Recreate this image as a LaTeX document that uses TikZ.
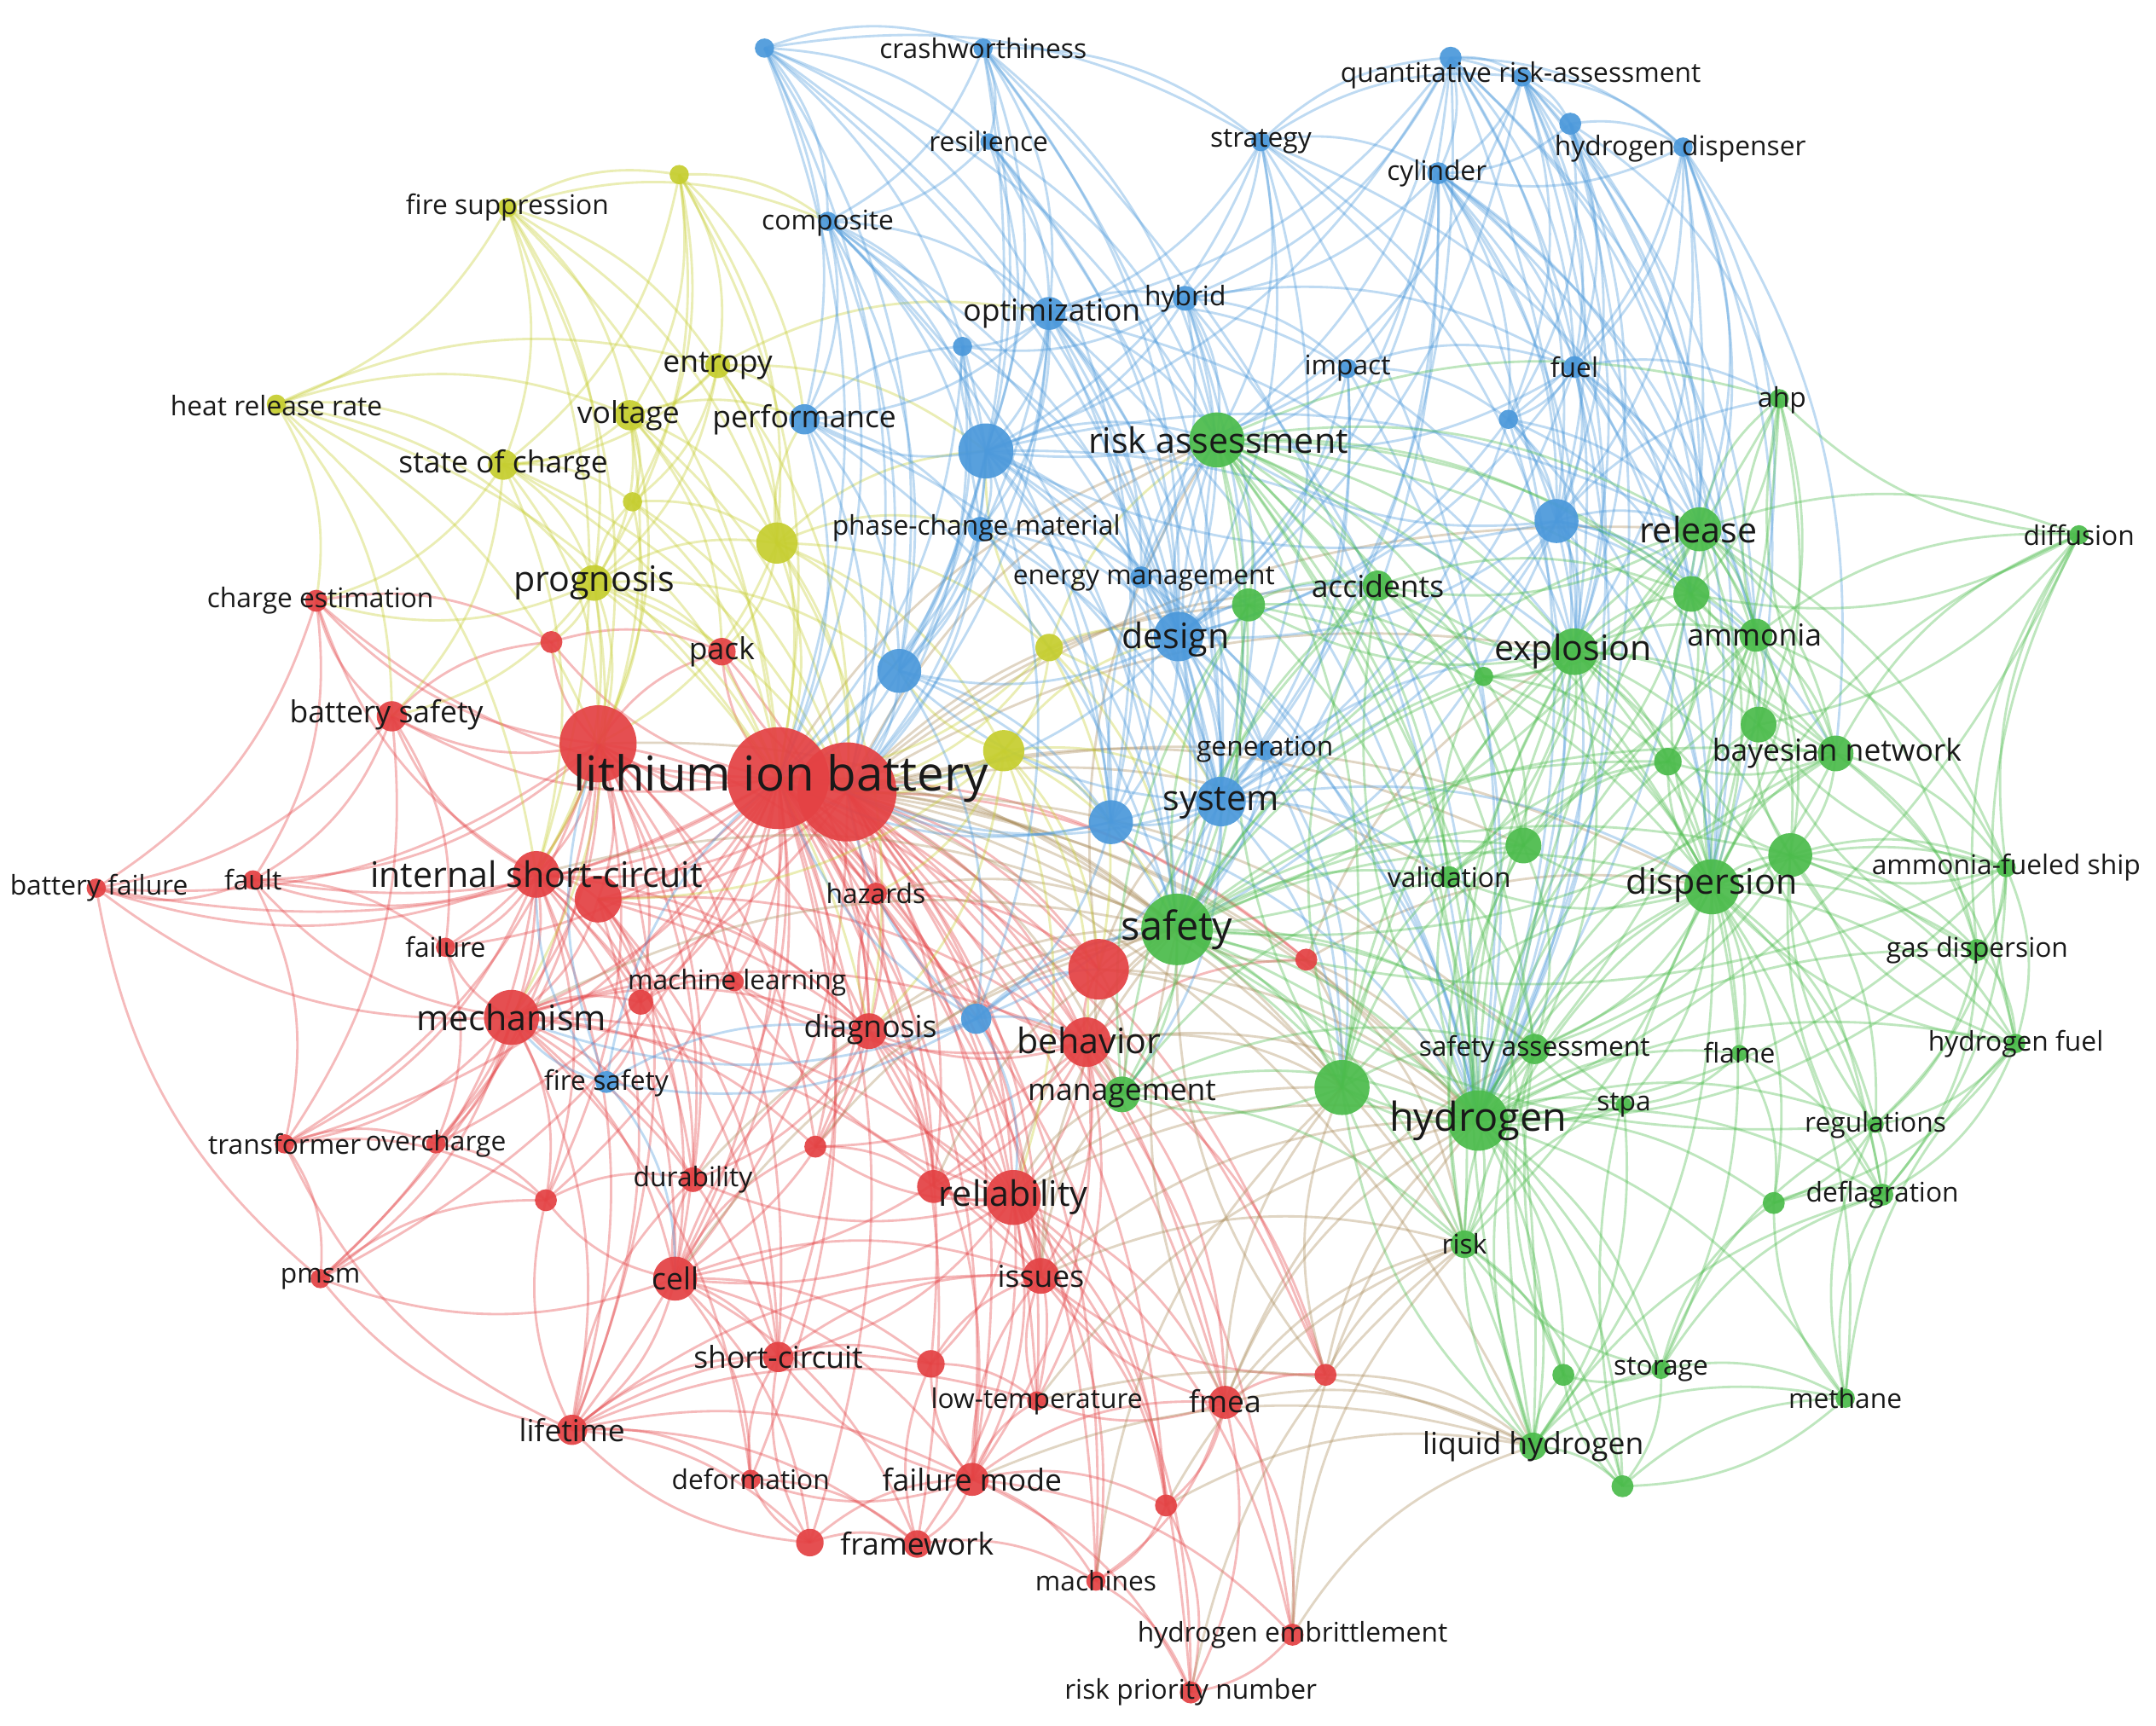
\documentclass[tikz,border=0pt]{standalone}
\usepackage{fontspec}
\setmainfont{Open Sans}
\definecolor{cR}{RGB}{228,66,68}
\definecolor{cG}{RGB}{76,188,76}
\definecolor{cB}{RGB}{76,153,219}
\definecolor{cY}{RGB}{198,206,48}
\definecolor{cRG}{RGB}{170,140,90}
\definecolor{txt}{RGB}{25,25,25}
\pgfdeclarelayer{bg}\pgfdeclarelayer{fg}\pgfsetlayers{bg,main,fg}
\begin{document}
\begin{tikzpicture}[x=0.01cm,y=-0.01cm,
  nd/.style={circle,inner sep=0pt,outer sep=0pt,fill opacity=0.93},
  rn/.style={nd,fill=cR,minimum size=#1*0.2mm},
  gn/.style={nd,fill=cG,minimum size=#1*0.2mm},
  bn/.style={nd,fill=cB,minimum size=#1*0.2mm},
  yn/.style={nd,fill=cY,minimum size=#1*0.2mm},
  ed/.style={line width=0.5pt,draw opacity=0.36,bend left=20},
  labA/.style={inner sep=0pt,text=txt,font=\fontsize{9.96pt}{10pt}\selectfont},
  labB/.style={inner sep=0pt,text=txt,font=\fontsize{8.25pt}{9pt}\selectfont},
  labC/.style={inner sep=0pt,text=txt,font=\fontsize{7.26pt}{8pt}\selectfont},
  labD/.style={inner sep=0pt,text=txt,font=\fontsize{6.26pt}{7pt}\selectfont},
  labE/.style={inner sep=0pt,text=txt,font=\fontsize{5.6pt}{6pt}\selectfont}]
\useasboundingbox (0,0) rectangle (1568,1255);
% ---------------- nodes: blue
\node[bn=7] (b1) at (556,35) {};
\node[bn=7] (crash) at (715,35) {};
\node[bn=6] (resil) at (719,103) {};
\node[bn=7] (strat) at (917,103) {};
\node[bn=8] (b2) at (1055,42) {};
\node[bn=7] (qra) at (1107,56) {};
\node[bn=8] (b3) at (1142,90) {};
\node[bn=7] (hdisp) at (1224,107) {};
\node[bn=8] (cyl) at (1046,126) {};
\node[bn=7] (comp) at (602,161) {};
\node[bn=12] (optim) at (763,228) {};
\node[bn=9] (hybrid) at (862,217) {};
\node[bn=7] (b4) at (700,252) {};
\node[bn=7] (impact) at (980,268) {};
\node[bn=8] (fuel) at (1145,267) {};
\node[bn=7] (b5) at (1097,305) {};
\node[bn=11] (perf) at (585,305) {};
\node[bn=20] (b6) at (717,328) {};
\node[bn=9] (pcm) at (713,385) {};
\node[bn=16] (b7) at (1132,379) {};
\node[bn=8] (energ) at (830,420) {};
\node[bn=18] (design) at (857,463) {};
\node[bn=16] (b8) at (654,488) {};
\node[bn=7] (gen) at (920,546) {};
\node[bn=18] (system) at (888,583) {};
\node[bn=16] (b9) at (808,598) {};
\node[bn=11] (b10) at (710,741) {};
\node[bn=8] (fsaf) at (441,787) {};
% yellow
\node[yn=7] (fsup) at (369,151) {};
\node[yn=7] (y1) at (494,127) {};
\node[yn=9] (entropy) at (522,266) {};
\node[yn=7] (hrr) at (201,294) {};
\node[yn=11] (volt) at (458,302) {};
\node[yn=11] (soc) at (366,338) {};
\node[yn=7] (y2) at (460,365) {};
\node[yn=15] (y3) at (565,395) {};
\node[yn=13] (progn) at (432,424) {};
\node[yn=10] (y4) at (763,471) {};
\node[yn=15] (y5) at (730,546) {};
% red
\node[rn=8] (charge) at (230,437) {};
\node[rn=8] (r1) at (401,467) {};
\node[rn=10] (pack) at (525,474) {};
\node[rn=11] (bsaf) at (285,521) {};
\node[rn=28] (r2) at (435,541) {};
\node[rn=37] (lib1) at (566,566) {};
\node[rn=36] (lib2) at (616,576) {};
\node[rn=7] (bfail) at (70,646) {};
\node[rn=7] (fault) at (184,640) {};
\node[rn=17] (isc) at (390,636) {};
\node[rn=17] (r3) at (435,654) {};
\node[rn=8] (hazards) at (637,650) {};
\node[rn=7] (failure) at (324,689) {};
\node[rn=9] (r4) at (466,729) {};
\node[rn=7] (mlearn) at (534,714) {};
\node[rn=20] (mech) at (372,740) {};
\node[rn=13] (diag) at (632,750) {};
\node[rn=22] (r5) at (799,705) {};
\node[rn=18] (behav) at (790,758) {};
\node[rn=8] (r6) at (950,698) {};
\node[rn=7] (transf) at (207,832) {};
\node[rn=7] (overch) at (317,832) {};
\node[rn=9] (dura) at (504,858) {};
\node[rn=8] (r7) at (593,834) {};
\node[rn=8] (r8) at (397,873) {};
\node[rn=20] (reliab) at (737,871) {};
\node[rn=12] (r9) at (679,863) {};
\node[rn=7] (pmsm) at (233,930) {};
\node[rn=16] (cell) at (491,930) {};
\node[rn=13] (issues) at (757,928) {};
\node[rn=11] (shortc) at (566,987) {};
\node[rn=10] (r10) at (677,992) {};
\node[rn=8] (r11) at (964,1000) {};
\node[rn=7] (lowt) at (754,1019) {};
\node[rn=12] (fmea) at (891,1020) {};
\node[rn=11] (life) at (416,1040) {};
\node[rn=7] (deform) at (546,1076) {};
\node[rn=12] (fmode) at (707,1076) {};
\node[rn=8] (r12) at (848,1095) {};
\node[rn=10] (frame) at (667,1123) {};
\node[rn=10] (r13) at (589,1122) {};
\node[rn=7] (machines) at (797,1150) {};
\node[rn=8] (hemb) at (940,1189) {};
\node[rn=8] (rpn) at (866,1231) {};
% green
\node[gn=7] (ahp) at (1294,290) {};
\node[gn=20] (riskass) at (885,320) {};
\node[gn=16] (release) at (1236,385) {};
\node[gn=7] (diffus) at (1512,389) {};
\node[gn=12] (g1) at (908,440) {};
\node[gn=11] (accid) at (1002,426) {};
\node[gn=13] (g2) at (1230,432) {};
\node[gn=17] (explos) at (1145,474) {};
\node[gn=12] (ammonia) at (1277,462) {};
\node[gn=7] (g3) at (1079,492) {};
\node[gn=13] (g4) at (1279,527) {};
\node[gn=13] (bayes) at (1335,548) {};
\node[gn=10] (g5) at (1213,554) {};
\node[gn=13] (g6) at (1108,615) {};
\node[gn=8] (valid) at (1054,638) {};
\node[gn=16] (g7) at (1302,622) {};
\node[gn=20] (disp) at (1245,645) {};
\node[gn=7] (afship) at (1459,631) {};
\node[gn=26] (safety) at (856,676) {};
\node[gn=8] (gasdisp) at (1438,691) {};
\node[gn=11] (safass) at (1116,763) {};
\node[gn=6] (flame) at (1265,766) {};
\node[gn=7] (hfuel) at (1466,759) {};
\node[gn=20] (g8) at (976,791) {};
\node[gn=13] (manag) at (816,796) {};
\node[gn=22] (hydrogen) at (1075,815) {};
\node[gn=6] (stpa) at (1181,804) {};
\node[gn=6] (regul) at (1364,818) {};
\node[gn=8] (g9) at (1290,875) {};
\node[gn=8] (deflag) at (1369,869) {};
\node[gn=10] (risk) at (1065,905) {};
\node[gn=8] (g10) at (1137,1000) {};
\node[gn=7] (storage) at (1208,996) {};
\node[gn=7] (methane) at (1342,1017) {};
\node[gn=10] (lh2) at (1115,1052) {};
\node[gn=8] (g11) at (1180,1081) {};
% ---------------- edges
\begin{pgfonlayer}{bg}
\fill[white] (0,0) rectangle (1568,1255);
% red
\foreach \a/\b in {lib1/r2, lib1/isc, lib1/r3, lib1/mech, lib1/bsaf, lib1/charge, lib1/r1, lib1/pack, lib1/hazards, lib1/failure, lib1/r4, lib1/mlearn, lib1/diag, lib1/r5, lib1/behav, lib1/transf, lib1/overch, lib1/dura, lib1/r7, lib1/r8, lib1/reliab, lib1/r9, lib1/cell, lib1/issues, lib1/shortc, lib1/r10, lib1/life, lib1/deform, lib1/fmode, lib1/frame, lib1/r13, lib1/lowt, lib1/fmea, lib1/fault, lib1/bfail, lib1/pmsm, lib1/machines, lib1/r11, lib1/r6, lib1/lib2,
lib2/reliab, lib2/behav, lib2/r5, lib2/diag, lib2/hazards, lib2/pack, lib2/issues, lib2/cell, lib2/fmode, lib2/r9, lib2/r7, lib2/fmea, lib2/r6, lib2/mech, lib2/isc, lib2/r3,
r2/isc, r2/r3, r2/mech, r2/bsaf, r2/charge, r2/fault, r2/bfail, r2/failure, r2/pack, r2/cell, r2/life, r2/shortc, r2/transf, r2/overch, r2/dura, r2/r8, r2/pmsm, r2/r1, r2/r4, r2/diag,
isc/r3, isc/mech, isc/bsaf, isc/fault, isc/failure, isc/overch, isc/transf, isc/cell, isc/life, isc/shortc, isc/dura, isc/r8, isc/diag, isc/charge, isc/bfail,
r3/mech, r3/cell, r3/diag, r3/behav, r3/reliab, r3/r4,
mech/overch, mech/transf, mech/dura, mech/cell, mech/life, mech/pmsm, mech/failure, mech/r8, mech/r4, mech/shortc, mech/deform, mech/diag, mech/fault, mech/bfail, mech/behav, mech/reliab,
behav/r5, behav/reliab, behav/issues, behav/fmea, behav/diag, behav/r9, behav/fmode, behav/lowt, behav/r11, behav/r6, behav/cell,
reliab/r9, reliab/issues, reliab/fmode, reliab/lowt, reliab/fmea, reliab/frame, reliab/r10, reliab/machines, reliab/rpn, reliab/hemb, reliab/r12, reliab/cell, reliab/dura, reliab/r7, reliab/diag, reliab/shortc,
cell/shortc, cell/life, cell/deform, cell/r13, cell/dura, cell/r8, cell/pmsm, cell/issues, cell/r10, cell/frame, cell/fmode, cell/diag,
life/shortc, life/deform, life/r13, life/frame, life/fmode, life/transf, life/pmsm, life/lowt, life/r10, life/issues,
fmode/frame, fmode/fmea, fmode/r12, fmode/rpn, fmode/hemb, fmode/machines, fmode/lowt, fmode/r10, fmode/issues, fmode/shortc,
fmea/rpn, fmea/hemb, fmea/r12, fmea/r11, fmea/machines, fmea/issues, fmea/lowt,
bsaf/charge, bsaf/fault, bsaf/bfail, bsaf/r1, bsaf/failure, charge/fault, charge/r1, fault/bfail, fault/failure, fault/transf, transf/pmsm, transf/overch, transf/r8, pmsm/r8, r13/frame, r13/shortc, r13/fmode, deform/frame, deform/shortc, shortc/r10, shortc/issues, r10/issues, diag/r7, diag/r9, diag/hazards, diag/mlearn, r7/r9, r9/issues, r4/mlearn, r4/fsaf, hemb/rpn, machines/rpn, r12/rpn, r12/machines, r11/issues, lowt/issues, hazards/r5, r1/pack, pack/diag,
r2/hazards, r2/mlearn, r2/r7, isc/r4, isc/pmsm, r3/shortc, r3/life, r3/dura, mech/r7, mech/issues, diag/cell, diag/dura, diag/issues, diag/fmode, behav/hazards, behav/mlearn, behav/r7, reliab/hazards, reliab/mlearn, cell/r7, life/r8, life/dura, r13/deform, r13/life, frame/r10, frame/machines, fmode/deform, charge/bfail, bsaf/transf, failure/overch, overch/r8, pmsm/bfail, r8/dura, r10/lowt, issues/r12, lib2/lowt, lib2/r11, lib2/r12, lib2/machines, lib2/hemb, lib1/rpn}
  \draw[ed,cR] (\a.center) to (\b.center);
% red-green
\foreach \a/\b in {r5/safety, r5/system, r6/safety, r11/hydrogen, fmea/risk, fmea/lh2, hemb/lh2, behav/safety, behav/g8, behav/hydrogen, reliab/safety, reliab/manag, issues/manag, lib2/safety, lib2/hydrogen, lib2/riskass, lib2/g8, lib2/manag, lib2/explos, lib2/disp, r5/manag, r6/hydrogen, r11/risk, issues/hydrogen, fmode/lh2, r12/lh2, lowt/lh2, manag/behav, manag/r5,
lib1/safety, lib1/hydrogen, lib1/riskass, r2/safety, isc/safety, mech/safety, diag/safety, cell/safety, reliab/hydrogen, reliab/g8, issues/safety, r5/riskass, r5/hydrogen, r5/g8, hazards/safety, fmea/safety, fmea/hydrogen, fmea/g8, fmea/safass, r11/safety, r11/lh2, r11/g8, r6/g8, r6/risk, lowt/hydrogen, hemb/hydrogen, hemb/risk, rpn/risk, r12/risk, machines/g8, issues/risk, r9/safety, dura/safety, r7/safety, lib2/g6, lib2/valid, lib2/safass, lib2/risk, lib2/lh2, lib2/release, lib2/accid, lib2/g1, r6/disp, r6/explos}
  \draw[ed,cRG] (\a.center) to (\b.center);
% yellow
\foreach \a/\b in {fsup/y1, fsup/hrr, fsup/volt, fsup/soc, fsup/entropy, fsup/progn, fsup/r2, fsup/y3, fsup/lib1,
y1/entropy, y1/volt, y1/soc, y1/y3, y1/progn, y1/lib1, y1/perf,
hrr/soc, hrr/volt, hrr/entropy, hrr/progn, hrr/charge, hrr/bsaf, hrr/r2, hrr/lib1,
entropy/volt, entropy/soc, entropy/y3, entropy/progn, entropy/lib1, entropy/lib2, entropy/y2,
volt/soc, volt/y2, volt/progn, volt/y3, volt/lib1, volt/r2, volt/pack, volt/lib2,
soc/progn, soc/y2, soc/lib1, soc/bsaf, soc/charge, soc/isc, soc/lib2,
progn/y2, progn/y3, progn/lib1, progn/lib2, progn/pack, progn/r1, progn/bsaf, progn/mech, progn/diag, progn/isc, progn/charge,
y2/y3, y2/lib1, y2/lib2, y3/lib1, y3/lib2, y3/pack, y3/y4, y3/y5, y3/diag,
y4/lib2, y4/y5, y4/lib1, y5/lib2, y5/lib1, y5/behav, y5/reliab, y5/diag, y5/r5,
y3/b8, y3/perf, entropy/perf, entropy/optim, y4/system, y4/design, y5/system, y5/b9, y4/safety, y5/safety,
y4/b6, y4/riskass, y5/design, y5/b8, progn/b8, volt/perf, entropy/b6, y1/comp, fsup/comp, y2/r2, y3/r2, y3/b6, y4/r5, y5/hazards, y5/r3, progn/r2, volt/isc, soc/r2, hrr/isc, fsup/isc, y1/y2, y3/pcm}
  \draw[ed,cY] (\a.center) to (\b.center);
% blue
\foreach \a/\b in {b1/crash, b1/comp, b1/resil, b1/b6, b1/optim, b1/perf, b1/strat, b1/b8, b1/system,
crash/resil, crash/strat, crash/b6, crash/optim, crash/system, crash/design, crash/comp, crash/b8,
resil/optim, resil/b6, resil/system, resil/design, resil/comp, resil/b9,
strat/qra, strat/b2, strat/cyl, strat/hybrid, strat/optim, strat/b6, strat/system, strat/design, strat/b7,
b2/qra, b2/b3, b2/cyl, b2/hdisp, b2/hybrid, b2/fuel, b2/b7, b2/system, b2/design, b2/optim, b2/b6,
qra/b3, qra/cyl, qra/hdisp, qra/fuel, qra/b7, qra/b5, qra/design,
b3/hdisp, b3/cyl, b3/fuel, b3/b7, b3/b5,
hdisp/cyl, hdisp/fuel, hdisp/b5, hdisp/b7,
cyl/fuel, cyl/b5, cyl/b7, cyl/impact, cyl/hybrid, cyl/design, cyl/system,
comp/optim, comp/b6, comp/perf, comp/b4, comp/pcm, comp/system, comp/design, comp/b8, comp/b9,
optim/hybrid, optim/b4, optim/b6, optim/perf, optim/pcm, optim/energ, optim/design, optim/system, optim/b8, optim/b9, optim/impact, optim/lib2,
hybrid/b6, hybrid/design, hybrid/system, hybrid/energ, hybrid/impact, hybrid/fuel, hybrid/b4,
impact/fuel, impact/b5, impact/b6, impact/system, impact/design,
fuel/b5, fuel/b7, fuel/design, fuel/system, b5/b7, b5/system, b5/design,
b6/perf, b6/pcm, b6/b8, b6/design, b6/system, b6/b9, b6/energ, b6/lib2, b6/b4, b6/lib1, b6/b10,
perf/pcm, perf/b8, perf/lib1, perf/b4, perf/lib2, perf/system,
pcm/b8, pcm/energ, pcm/design, pcm/system, pcm/b9, pcm/lib2,
b7/system, b7/design, b7/b9, b7/b6, energ/design, energ/system, energ/b9,
design/system, design/b9, design/gen, design/b8, design/lib2,
system/b9, system/gen, system/lib2, system/b10, system/b8,
b8/b9, b8/lib2, b8/lib1, b8/b10, b9/lib2, b9/b10, b9/lib1,
b10/fsaf, b10/mech, b10/diag, b10/lib2, b10/behav, b10/lib1, fsaf/mech, fsaf/lib1, fsaf/isc,
strat/riskass, b2/riskass, qra/riskass, qra/release, b3/release, b3/explos, b3/hydrogen, hdisp/release, hdisp/ammonia, hdisp/explos, hdisp/disp, hdisp/hydrogen, cyl/hydrogen, cyl/explos, cyl/safety,
b7/release, b7/explos, b7/riskass, b7/safety, b7/hydrogen, b7/disp, b7/g2, b7/ammonia, b7/bayes, fuel/release, fuel/explos, fuel/hydrogen, fuel/riskass, design/safety, design/riskass, design/hydrogen, design/g8, design/g1, design/accid, system/safety, system/riskass, system/hydrogen, system/g8, system/explos, system/valid, system/manag, system/disp, energ/safety, energ/g1, optim/riskass, b6/riskass, b6/safety, hybrid/riskass, impact/riskass, gen/safety, gen/hydrogen, b9/safety, b5/release, b5/explos, cyl/release, hybrid/hydrogen, strat/hydrogen, b2/release, b3/disp,
b6/hydrogen, b6/explos, b6/release, optim/safety, optim/hydrogen, optim/explos, perf/safety, pcm/safety, b8/safety, comp/safety, crash/riskass, resil/riskass, crash/hydrogen, b1/design, b1/riskass, strat/release, strat/explos, b2/explos, b2/hydrogen, qra/explos, qra/disp, qra/ammonia, qra/hydrogen, hdisp/g2, hdisp/bayes, cyl/disp, cyl/g2, fuel/disp, fuel/ammonia, fuel/g2, b5/hydrogen, b5/disp, b5/g2, impact/hydrogen, impact/explos, impact/safety, hybrid/safety, energ/hydrogen, energ/riskass, gen/g8, gen/riskass, b9/hydrogen, b9/riskass, b10/safety, b10/reliab, b10/r5, fsaf/r2, fsaf/cell, fsaf/diag, b1/lib1, b1/lib2, crash/lib2, comp/lib1, comp/lib2, optim/lib1, b4/lib1, b4/lib2, b4/b8, b4/design, b3/ahp, b7/ahp, fuel/ahp, b2/ammonia, cyl/ammonia}
  \draw[ed,cB] (\a.center) to (\b.center);
% green
\foreach \a/\b in {riskass/safety, riskass/g1, riskass/accid, riskass/explos, riskass/release, riskass/g2, riskass/ammonia, riskass/bayes, riskass/hydrogen, riskass/g8, riskass/disp, riskass/ahp, riskass/manag, riskass/g6, riskass/valid, riskass/safass, riskass/risk, riskass/g3, riskass/lh2,
safety/g8, safety/hydrogen, safety/manag, safety/accid, safety/g1, safety/explos, safety/disp, safety/safass, safety/risk, safety/g6, safety/valid, safety/lh2, safety/stpa, safety/g3, safety/release, safety/g5, safety/bayes, safety/storage, safety/g7,
hydrogen/g8, hydrogen/safass, hydrogen/risk, hydrogen/stpa, hydrogen/disp, hydrogen/explos, hydrogen/release, hydrogen/lh2, hydrogen/storage, hydrogen/g10, hydrogen/g11, hydrogen/flame, hydrogen/g9, hydrogen/deflag, hydrogen/regul, hydrogen/methane, hydrogen/valid, hydrogen/g6, hydrogen/g5, hydrogen/g7, hydrogen/bayes, hydrogen/hfuel, hydrogen/accid, hydrogen/g4, hydrogen/ammonia, hydrogen/gasdisp,
release/g2, release/ammonia, release/explos, release/disp, release/diffus, release/ahp, release/g4, release/bayes, release/g7, release/g5, release/afship, release/gasdisp, release/accid, release/g6,
explos/g2, explos/ammonia, explos/g3, explos/g4, explos/g5, explos/g6, explos/disp, explos/accid, explos/bayes, explos/g7, explos/valid, explos/deflag, explos/flame, explos/g1, explos/safass,
disp/g7, disp/g4, disp/bayes, disp/afship, disp/gasdisp, disp/hfuel, disp/flame, disp/regul, disp/deflag, disp/g9, disp/safass, disp/g6, disp/g5, disp/ammonia, disp/diffus, disp/storage, disp/methane, disp/g2, disp/stpa, disp/lh2, disp/valid,
ammonia/g2, ammonia/g4, ammonia/bayes, ammonia/afship, ammonia/g7, ammonia/ahp, ammonia/diffus, ammonia/g5,
bayes/g4, bayes/g7, bayes/afship, bayes/gasdisp, bayes/ahp, bayes/diffus, bayes/g5, bayes/g2, bayes/hfuel,
g7/g4, g7/afship, g7/gasdisp, g7/g5, g7/regul, g2/g4, g2/g5, g2/g3,
afship/gasdisp, afship/hfuel, afship/regul, afship/deflag, afship/diffus,
gasdisp/hfuel, gasdisp/regul, gasdisp/deflag, gasdisp/diffus, hfuel/regul, hfuel/deflag, hfuel/g9, hfuel/diffus,
lh2/storage, lh2/g10, lh2/g11, lh2/methane, lh2/risk, lh2/safass, lh2/g8, lh2/deflag,
storage/g10, storage/g11, storage/methane, storage/risk, storage/deflag,
risk/safass, risk/g8, risk/g10, risk/stpa, risk/g11,
g8/safass, g8/manag, g8/valid, g8/g6, g8/accid, g8/g1, manag/g1, manag/accid, manag/safass,
valid/g6, valid/safass, valid/g3, g6/g5, g6/safass, g1/accid, g3/g5, accid/g3,
stpa/safass, flame/deflag, regul/deflag, g9/deflag, methane/deflag, methane/g11, diffus/ahp, ahp/g2,
ahp/g4, ahp/disp, ahp/hydrogen, ahp/safety, afship/g4, afship/hydrogen, afship/safety, gasdisp/g4, gasdisp/hydrogen, hfuel/g7, regul/g9, regul/g7, regul/safety, methane/g9, methane/regul, storage/g9, deflag/g7, g11/safass, g11/disp, g10/safass, lh2/explos, lh2/release, risk/disp, risk/explos, risk/g6, valid/g5, accid/g2, accid/g6, accid/disp, g1/g3, g1/hydrogen, g1/disp, g3/g6, g3/disp, manag/hydrogen, manag/risk, manag/valid, g8/disp, g8/explos, g8/release, stpa/g8, stpa/lh2, flame/g9, flame/stpa, ammonia/safety, ammonia/risk, bayes/safety, bayes/safass, g7/safass, g7/hfuel, diffus/g4, diffus/g2, diffus/hydrogen, afship/g7, hfuel/disp, methane/hfuel, storage/regul, g11/g10, g11/methane}
  \draw[ed,cG] (\a.center) to (\b.center);
\end{pgfonlayer}
% ---------------- labels
\begin{pgfonlayer}{fg}
\node[labE] (t-crash) at (715,35) {crashworthiness};
\node[labE] (t-resil) at (719,103) {resilience};
\node[labE] (t-strat) at (917,103) {strategy};
\node[labE] (t-qra) at (1106,55) {quantitative risk-assessment};
\node[labE] (t-hdisp) at (1222,108) {hydrogen dispenser};
\node[labE] (t-cyl) at (1045,126) {cylinder};
\node[labE] (t-comp) at (602,162) {composite};
\node[labD] (t-optim) at (765,228) {optimization};
\node[labE] (t-hybrid) at (862,217) {hybrid};
\node[labE] (t-impact) at (980,268) {impact};
\node[labE] (t-fuel) at (1145,267) {fuel};
\node[labD] (t-perf) at (585,305) {performance};
\node[labE] (t-pcm) at (710,384) {phase-change material};
\node[labE] (t-energ) at (832,421) {energy management};
\node[labC] (t-design) at (855,465) {design};
\node[labE] (t-gen) at (920,545) {generation};
\node[labC] (t-system) at (888,584) {system};
\node[labE] (t-fsaf) at (441,788) {fire safety};
\node[labE] (t-fsup) at (369,151) {fire suppression};
\node[labD] (t-entropy) at (522,266) {entropy};
\node[labE] (t-hrr) at (201,295) {heat release rate};
\node[labD] (t-volt) at (457,302) {voltage};
\node[labD] (t-soc) at (366,338) {state of charge};
\node[labC] (t-progn) at (432,424) {prognosis};
\node[labE] (t-charge) at (233,437) {charge estimation};
\node[labD] (t-pack) at (525,474) {pack};
\node[labD] (t-bsaf) at (281,520) {battery safety};
\node[labA] (t-lib) at (568,566) {lithium ion battery};
\node[labE] (t-bfail) at (72,646) {battery failure};
\node[labE] (t-fault) at (184,640) {fault};
\node[labC] (t-isc) at (390,636) {internal short-circuit};
\node[labE] (t-hazards) at (637,650) {hazards};
\node[labE] (t-failure) at (324,689) {failure};
\node[labE] (t-mlearn) at (536,715) {machine learning};
\node[labC] (t-mech) at (372,740) {mechanism};
\node[labD] (t-diag) at (633,749) {diagnosis};
\node[labC] (t-behav) at (792,757) {behavior};
\node[labE] (t-transf) at (207,832) {transformer};
\node[labE] (t-overch) at (317,832) {overcharge};
\node[labE] (t-dura) at (504,858) {durability};
\node[labC] (t-reliab) at (737,871) {reliability};
\node[labE] (t-pmsm) at (233,930) {pmsm};
\node[labD] (t-cell) at (491,930) {cell};
\node[labD] (t-issues) at (757,928) {issues};
\node[labD] (t-shortc) at (566,987) {short-circuit};
\node[labE] (t-lowt) at (754,1019) {low-temperature};
\node[labD] (t-fmea) at (891,1019) {fmea};
\node[labD] (t-life) at (416,1040) {lifetime};
\node[labE] (t-deform) at (546,1076) {deformation};
\node[labD] (t-fmode) at (707,1076) {failure mode};
\node[labD] (t-frame) at (667,1123) {framework};
\node[labE] (t-machines) at (797,1150) {machines};
\node[labE] (t-hemb) at (940,1189) {hydrogen embrittlement};
\node[labE] (t-rpn) at (866,1231) {risk priority number};
\node[labE] (t-ahp) at (1296,291) {ahp};
\node[labC] (t-riskass) at (886,320) {risk assessment};
\node[labC] (t-release) at (1235,385) {release};
\node[labE] (t-diffus) at (1512,389) {diffusion};
\node[labD] (t-accid) at (1002,426) {accidents};
\node[labC] (t-explos) at (1144,474) {explosion};
\node[labD] (t-ammonia) at (1276,462) {ammonia};
\node[labD] (t-bayes) at (1336,548) {bayesian network};
\node[labE] (t-valid) at (1054,638) {validation};
\node[labC] (t-disp) at (1245,644) {dispersion};
\node[labE] (t-afship) at (1459,631) {ammonia-fueled ship};
\node[labB] (t-safety) at (856,676) {safety};
\node[labE] (t-gasdisp) at (1438,691) {gas dispersion};
\node[labE] (t-safass) at (1116,763) {safety assessment};
\node[labE] (t-flame) at (1265,766) {flame};
\node[labE] (t-hfuel) at (1466,759) {hydrogen fuel};
\node[labD] (t-manag) at (816,796) {management};
\node[labB] (t-hydrogen) at (1075,815) {hydrogen};
\node[labE] (t-stpa) at (1181,804) {stpa};
\node[labE] (t-regul) at (1364,818) {regulations};
\node[labE] (t-deflag) at (1369,869) {deflagration};
\node[labE] (t-risk) at (1065,905) {risk};
\node[labE] (t-storage) at (1208,996) {storage};
\node[labE] (t-methane) at (1342,1017) {methane};
\node[labD] (t-lh2) at (1115,1052) {liquid hydrogen};
\end{pgfonlayer}
\end{tikzpicture}
\end{document}
